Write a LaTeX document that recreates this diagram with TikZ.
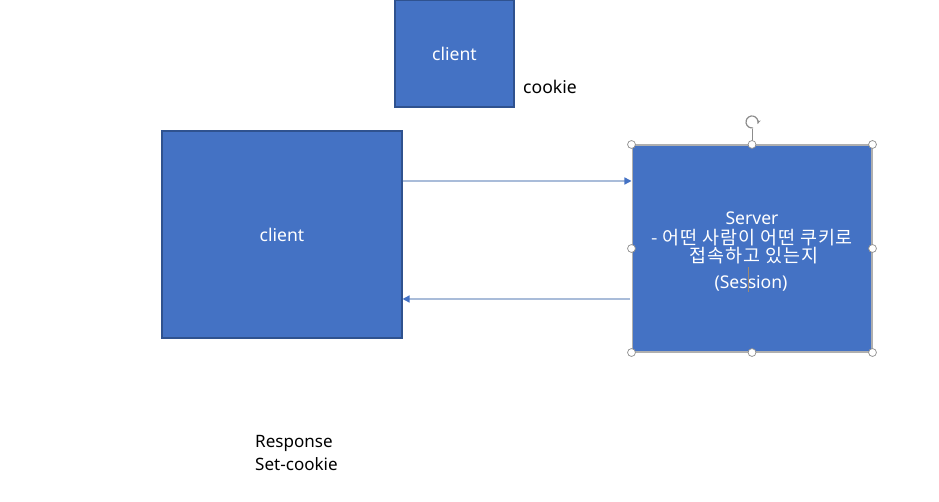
\documentclass[tikz,border=0pt]{standalone}
\usepackage{fontspec}
\setmainfont{Noto Sans}
\newfontfamily\kofont[LetterSpace=5]{Noto Sans CJK KR}
\usetikzlibrary{arrows.meta}
\definecolor{boxblue}{HTML}{4472C4}
\definecolor{boxedge}{HTML}{2F528F}
\definecolor{linkline}{HTML}{A9BCD9}
\definecolor{handlegray}{HTML}{8C8C8C}
\definecolor{cursorline}{HTML}{A08A70}

\begin{document}
\begin{tikzpicture}[x=0.02cm, y=-0.02cm,
    every node/.style={font=\fontsize{10pt}{13pt}\selectfont},
    shapebox/.style={draw=boxedge, fill=boxblue, line width=0.6pt, text=white, inner sep=0pt, align=center},
    srvtext/.style={text=white, inner sep=0pt, anchor=base},
    kotext/.style={srvtext, font=\kofont\fontsize{10.5pt}{13pt}\selectfont},
    link/.style={draw=linkline, line width=0.8pt, -{Triangle[length=4pt, width=4pt, fill=boxblue, color=boxblue]}},
    handle/.style={circle, draw=handlegray, fill=white, line width=0.4pt, inner sep=0pt, minimum size=4.5pt}]
  \useasboundingbox (0,0) rectangle (939,502);
  % boxes
  \node[shapebox, minimum width=2.38cm, minimum height=2.14cm] (topclient) at (454.5,53.5) {client};
  \node[shapebox, minimum width=4.8cm, minimum height=4.14cm] (client) at (282,234.5) {client};
  \node[shapebox, draw=handlegray!70, minimum width=4.8cm, minimum height=4.14cm] (server) at (752,248.5) {};
  \node[srvtext] (srvtitle) at (752,225) {Server};
  \node[kotext] (srvline1) at (752,245) {- 어떤 사람이 어떤 쿠키로};
  \node[kotext] (srvline2) at (754,263) {접속하고 있는지};
  \node[srvtext] (srvsession) at (751,288.5) {(Session)};
  % labels
  \node[anchor=west] (cookie) at (517,87) {cookie};
  \node[anchor=west, align=left, font=\fontsize{9.7pt}{12.6pt}\selectfont] (response) at (249,453) {Response\\Set-cookie};
  % request / response
  \draw[link] (client.east |- 0,181) -- (server.west |- 0,181);
  \draw[link] ([xshift=-0.04cm]server.west |- 0,299) -- (client.east |- 0,299);
  % selection handles
  \coordinate (rot) at (752,122);
  \draw[handlegray, line width=0.4pt] (server.north) -- ([yshift=-0.14cm]rot);
  \draw[handlegray, line width=0.7pt, -{Stealth[length=2.5pt]}] ([shift={(80:6)}]rot) arc[start angle=80, end angle=380, radius=6];
  \foreach \a in {north west, north, north east, east, south east, south, south west, west}
    \node[handle] at (server.\a) {};
  % text cursor
  \draw[cursorline, line width=0.5pt] (748,267) -- (748,292);
\end{tikzpicture}
\end{document}
